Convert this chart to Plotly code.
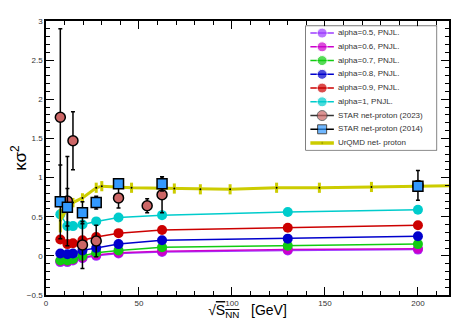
"""
    Kurtosis (kappa sigma^2) of net-proton vs collision energy.
"""
import plotly.graph_objects as go

# PNJL curves
pnjl_energy = [7.7, 11.5, 14.5, 19.6, 27, 39, 62.4, 130, 200]
pnjl_a05 = [-0.08, -0.08, -0.06, -0.03, 0.00, 0.03, 0.05, 0.07, 0.08]
pnjl_a06 = [-0.07, -0.07, -0.05, -0.02, 0.01, 0.04, 0.06, 0.08, 0.09]
pnjl_a07 = [-0.06, -0.06, -0.04, 0.00, 0.04, 0.07, 0.11, 0.13, 0.15]
pnjl_a08 = [0.03, 0.02, 0.03, 0.07, 0.10, 0.15, 0.20, 0.22, 0.25]
pnjl_a09 = [0.21, 0.15, 0.16, 0.20, 0.24, 0.29, 0.33, 0.36, 0.39]
pnjl_a10 = [0.53, 0.38, 0.38, 0.40, 0.44, 0.49, 0.52, 0.56, 0.59]

# STAR net-proton (2023)
star23_energy = [7.7, 11.5, 14.5, 19.6, 27, 39, 54.4, 62.4, 200]
star23_k = [1.77, 0.70, 1.47, 0.14, 0.19, 0.74, 0.64, 0.78, 0.90]
star23_err = [1.13, 0.57, 0.37, 0.30, 0.20, 0.13, 0.09, 0.23, 0.19]

# STAR net-proton (2014)
star14_energy = [7.7, 11.5, 19.6, 27, 39, 62.4, 200]
star14_k = [0.69, 0.62, 0.55, 0.68, 0.92, 0.92, 0.89]
star14_err = [0.47, 0.24, 0.14, 0.08, 0.05, 0.09, 0.05]

# UrQMD net-proton
urqmd_energy = [7.7, 11.5, 14.5, 19.6, 27, 30, 46, 69, 83, 99, 124, 147, 175, 200, 250]
urqmd_k = [0.45, 0.62, 0.68, 0.74, 0.87, 0.89, 0.87, 0.86, 0.85, 0.85, 0.87, 0.87, 0.88, 0.89, 0.91]
urqmd_err = [0.15, 0.06, 0.06, 0.06, 0.065, 0.065, 0.065, 0.065, 0.065, 0.065, 0.065, 0.065, 0.065, 0.065, 0.065]

legend_labels = ['alpha=0.5, PNJL.', 'alpha=0.6, PNJL.', 'alpha=0.7, PNJL.',
                 'alpha=0.8, PNJL.', 'alpha=0.9, PNJL.', 'alpha=1, PNJL.',
                 'STAR net-proton (2023)', 'STAR net-proton (2014)', 'UrQMD net- proton']

pnjl_sets = [
    (pnjl_a05, '#9d3cff'),
    (pnjl_a06, '#cc00cc'),
    (pnjl_a07, '#11cc11'),
    (pnjl_a08, '#0000cc'),
    (pnjl_a09, '#cc0000'),
    (pnjl_a10, '#00cccc'),
]
YEL = '#cccc00'
C23 = '#cc6666'
C14 = '#3399ff'

fig = go.Figure()

for vals, col in pnjl_sets:
    fig.add_trace(go.Scatter(
        x=pnjl_energy, y=vals, mode='lines+markers',
        line=dict(color=col, width=1.5),
        marker=dict(color=col, size=10),
        showlegend=False,
    ))

fig.add_trace(go.Scatter(
    x=urqmd_energy, y=urqmd_k, mode='lines+markers',
    line=dict(color=YEL, width=3),
    marker=dict(color='black', size=2),
    error_y=dict(type='data', array=urqmd_err, color=YEL, thickness=3, width=0),
    showlegend=False,
))

fig.add_trace(go.Scatter(
    x=star23_energy, y=star23_k, mode='markers',
    marker=dict(color=C23, size=10, symbol='circle', line=dict(color='black', width=1.5)),
    error_y=dict(type='data', array=star23_err, color='black', thickness=1.5, width=2),
    showlegend=False,
))

fig.add_trace(go.Scatter(
    x=star14_energy, y=star14_k, mode='markers',
    marker=dict(color=C14, size=10, symbol='square', line=dict(color='black', width=1.5)),
    error_y=dict(type='data', array=star14_err, color='black', thickness=1.5, width=2),
    showlegend=False,
))

# hand-made legend in its own small axes box
legend_style = [(c, 'circle', 10, 1.5, c) for _, c in pnjl_sets]
legend_style += [(C23, 'circle', 10, 1.5, '#333333'),
                 (C14, 'square', 9, 1.5, 'black'),
                 ('black', 'circle', 2, 3.5, YEL)]
for i, (mcol, sym, msize, lw, lcol) in enumerate(legend_style):
    yy = 8.5 - i
    fig.add_trace(go.Scatter(
        x=[0.034, 0.124, 0.214], y=[yy, yy, yy], mode='lines+markers',
        line=dict(color=lcol, width=lw),
        marker=dict(color=mcol, size=[0, msize, 0], symbol=sym),
        xaxis='x2', yaxis='y2', showlegend=False, hoverinfo='skip',
    ))
fig.add_trace(go.Scatter(
    x=[0.245] * len(legend_labels), y=[8.5 - i for i in range(len(legend_labels))],
    text=legend_labels, mode='text', textposition='middle right',
    textfont=dict(size=8, color='#333333', family='Liberation Sans, Arial'),
    xaxis='x2', yaxis='y2', showlegend=False, cliponaxis=False, hoverinfo='skip',
))

axis_common = dict(
    showgrid=False, zeroline=False, showline=True, linecolor='black', linewidth=1.5,
    mirror='allticks', ticks='inside', ticklen=8, tickcolor='black', tickwidth=1,
    tickfont=dict(size=8, color='#333333', family='Liberation Sans, Arial'),
    automargin=False,
)

# page body has an 8px margin, so the figure is 8px smaller each way
fig.update_layout(
    width=461, height=312,
    margin=dict(l=38, r=20, t=13, b=25),
    paper_bgcolor='white', plot_bgcolor='white',
    font=dict(family='Liberation Sans, Arial', color='black'),
    xaxis=dict(
        range=[0, 216.7], dtick=50, tick0=0,
        minor=dict(dtick=10, ticklen=4, ticks='inside', tickcolor='black'),
        title=dict(text='√<span style="text-decoration:overline">S<sub>NN</sub></span>\u00a0\u00a0\u00a0[GeV]',
                   font=dict(size=14), standoff=0),
        **axis_common
    ),
    yaxis=dict(
        range=[-0.5, 3], dtick=0.5, tick0=0,
        minor=dict(dtick=0.1, ticklen=4, ticks='inside', tickcolor='black'),
        title=dict(text='κσ<sup>2</sup>', font=dict(size=17), standoff=4),
        **axis_common
    ),
    xaxis2=dict(domain=[0.645, 0.969], anchor='y2', range=[0, 1], visible=False),
    yaxis2=dict(domain=[0.5295, 0.981], anchor='x2', range=[0, 9], visible=False),
    shapes=[dict(type='rect', xref='x2 domain', yref='y2 domain', x0=0, x1=1, y0=0, y1=1,
                 fillcolor='white', line=dict(color='#333333', width=1.2), layer='below')],
    hovermode='closest',
)

fig.write_html("out.html")
